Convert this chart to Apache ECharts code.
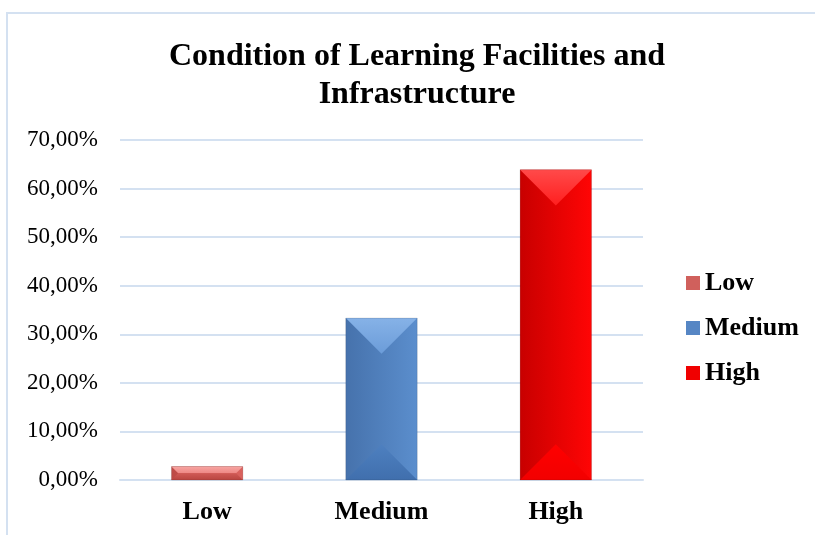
<!DOCTYPE html>
<html>
<head>
<meta charset="utf-8">
<script src="https://cdn.jsdelivr.net/npm/echarts@6/dist/echarts.min.js"></script>
<style>
    html, body {margin: 0; padding: 0; background: #fff;}
    #chart {width: 815px; height: 535px;}
</style>
</head>
<body>
<div id="chart"></div>
<script>
// data
let categories = ['Low', 'Medium', 'High']
let percentValues = [2.78, 33.33, 63.89]
let yTicks = [0, 10, 20, 30, 40, 50, 60, 70]

// shading per bar: body left/right, top face, bottom face, legend colour
let barShades = [
    {left: '#bd4a46', right: '#d9625e', top: ['#f7a5a2', '#ee8784'], bottom: ['#d05a56', '#b94540'], legend: '#d0605c'},
    {left: '#4672ac', right: '#5b8ecd', top: ['#86b2e7', '#6b9cd9'], bottom: ['#4e80c0', '#406fad'], legend: '#5686c4'},
    {left: '#c80000', right: '#ff0505', top: ['#ff4a4a', '#ff1f1f'], bottom: ['#ff0000', '#f20000'], legend: '#f00000'}
]

let serif = '"Liberation Serif", "Times New Roman", serif'

function vGrad(a, b) {
    return new echarts.graphic.LinearGradient(0, 0, 0, 1, [{offset: 0, color: a}, {offset: 1, color: b}])
}

function bevelBar(params, api) {
    let idx = api.value(0)
    let top = api.coord([idx, api.value(1)])
    let base = api.coord([idx, 0])
    let w = api.size([1, 0])[0] * 0.41
    let l = top[0] - w / 2
    let r = top[0] + w / 2
    let t = top[1]
    let b = base[1]
    let d = Math.min(w, b - t) / 2
    let s = barShades[idx]
    let poly = (pts, fill) => ({type: 'polygon', shape: {points: pts}, style: {fill: fill}})
    return {
        type: 'group',
        children: [
            {
                type: 'rect',
                shape: {x: l, y: t, width: w, height: b - t},
                style: {
                    fill: new echarts.graphic.LinearGradient(0, 0, 1, 0, [
                        {offset: 0, color: s.left},
                        {offset: 1, color: s.right}
                    ])
                }
            },
            poly([[l, t], [r, t], [r - d, t + d], [l + d, t + d]], vGrad(s.top[0], s.top[1])),
            poly([[l, b], [r, b], [r - d, b - d], [l + d, b - d]], vGrad(s.bottom[0], s.bottom[1])),
            {
                type: 'rect',
                shape: {x: l, y: t, width: w, height: b - t},
                style: {fill: 'none', stroke: 'rgba(0,0,0,0.12)', lineWidth: 1}
            }
        ]
    }
}

let myChart = echarts.init(document.getElementById('chart'))

let option = {
    animation: false,
    color: barShades.map((s) => s.legend),
    graphic: [{
        type: 'rect',
        shape: {x: 7, y: 13, width: 900, height: 700},
        style: {fill: 'none', stroke: '#d4e1f1', lineWidth: 2}
    }],
    title: {
        text: 'Condition of Learning Facilities and\nInfrastructure',
        left: 412,
        top: 33,
        textAlign: 'center',
        textStyle: {
            fontFamily: serif,
            fontWeight: 'bold',
            fontSize: 32,
            lineHeight: 38,
            color: '#000'
        }
    },
    legend: {
        orient: 'vertical',
        left: 681,
        top: 265,
        itemWidth: 14,
        itemHeight: 14,
        itemGap: 19,
        icon: 'rect',
        selectedMode: false,
        textStyle: {
            fontFamily: serif,
            fontWeight: 'bold',
            fontSize: 26,
            lineHeight: 26,
            color: '#000'
        },
        data: categories
    },
    grid: {
        left: 120,
        right: 172,
        top: 140,
        bottom: 55
    },
    xAxis: {
        type: 'category',
        data: categories,
        axisLine: {lineStyle: {color: '#d4e1f1', width: 2}},
        axisTick: {show: false},
        axisLabel: {
            margin: 19,
            fontFamily: serif,
            fontWeight: 'bold',
            fontSize: 26,
            color: '#000'
        }
    },
    yAxis: {
        type: 'value',
        min: yTicks[0],
        max: yTicks[yTicks.length - 1],
        interval: 10,
        axisLine: {show: false},
        axisTick: {show: false},
        splitLine: {lineStyle: {color: '#d4e1f1', width: 2}},
        axisLabel: {
            margin: 22,
            fontFamily: serif,
            fontSize: 23,
            color: '#000',
            formatter: (v) => v.toFixed(2).replace('.', ',') + '%'
        }
    },
    series: categories.map((name, i) => ({
        name: name,
        type: 'custom',
        renderItem: bevelBar,
        itemStyle: {color: barShades[i].legend},
        encode: {x: 0, y: 1},
        data: [[i, percentValues[i]]]
    }))
}
myChart.setOption(option)
</script>
</body>
</html>
